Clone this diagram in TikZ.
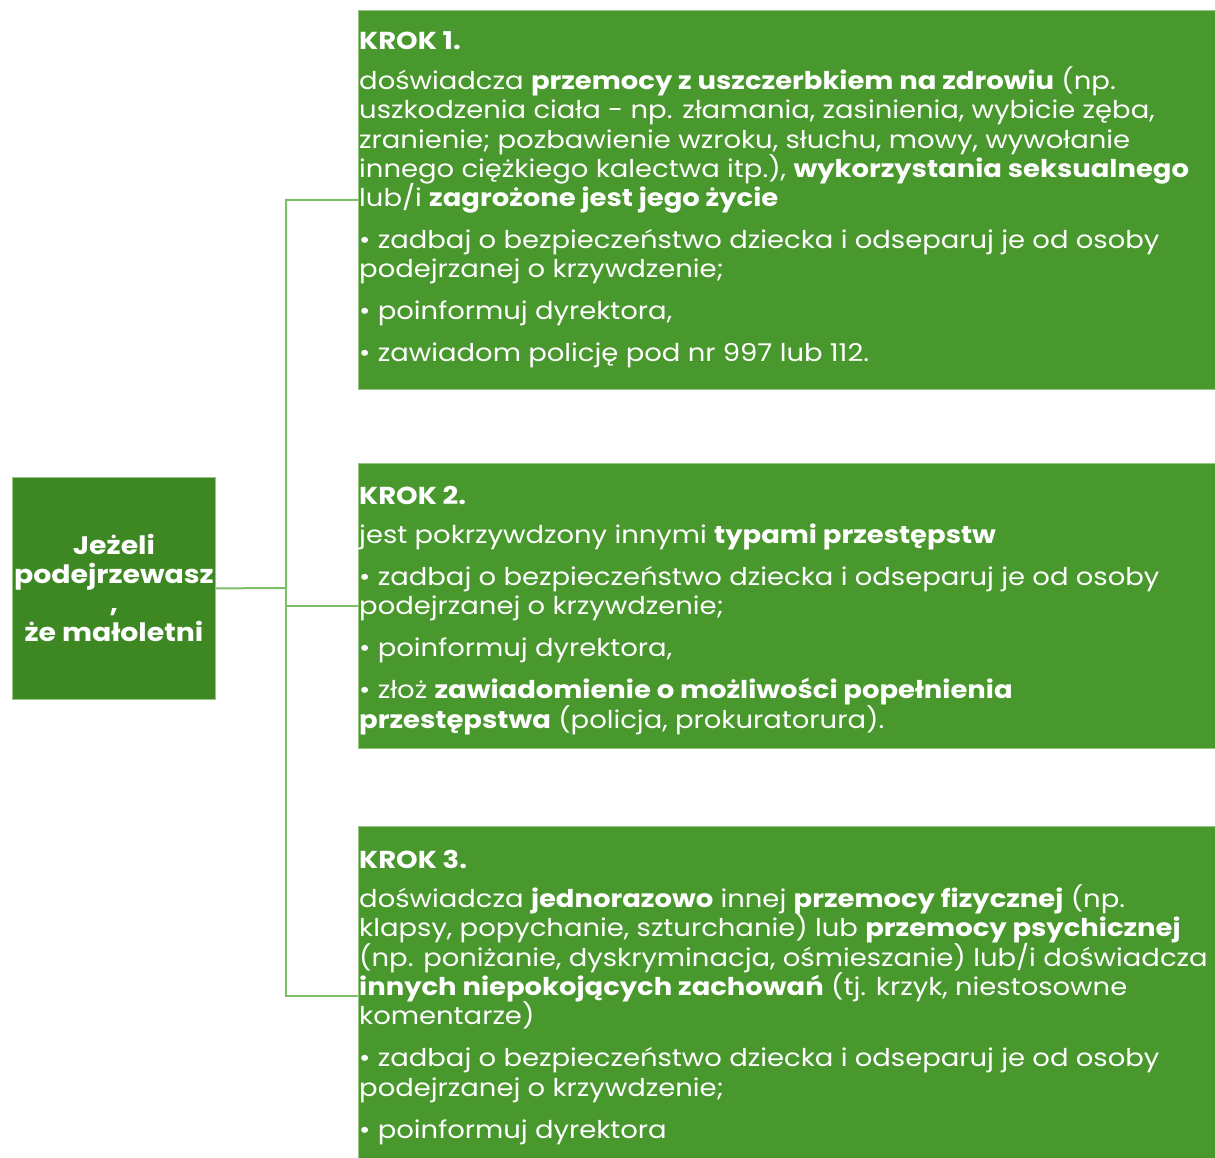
\documentclass[tikz,border=0pt]{standalone}
\usepackage{fontspec}
\setmainfont{Poppins}[FakeStretch=1.12]
\definecolor{boxgreen}{RGB}{73,152,45}
\definecolor{darkgreen}{RGB}{62,136,36}
\definecolor{edgegreen}{RGB}{150,200,130}
\definecolor{linkgreen}{RGB}{125,190,105}
\newcommand{\Row}[1]{\hbox{#1}}
\newcommand{\Pgap}{\vskip 12.7pt}
\newcommand{\Kgap}{\vskip 10.2pt}
\newcommand{\Lines}[1]{\vtop{\baselineskip=29.3pt\lineskiplimit=-50pt\lineskip=0pt #1}}
\begin{document}
\begin{tikzpicture}[x=1pt,y=-1pt,
  stepbox/.style={draw=edgegreen, line width=0.8pt, fill=boxgreen, rectangle, anchor=north west, inner sep=0pt},
  steptext/.style={anchor=base west, inner sep=0pt, text=white, font=\fontsize{24.5}{29.3}\selectfont},
  link/.style={draw=linkgreen, line width=2pt}]
\useasboundingbox (0,0) rectangle (1215,1158);
\fill[white] (0,0) rectangle (1215,1158);

\node[stepbox, minimum width=857pt, minimum height=379pt] (b1) at (358,10) {};
\node[stepbox, minimum width=857pt, minimum height=285pt] (b2) at (358,463) {};
\node[stepbox, minimum width=857pt, minimum height=340pt] (b3) at (358,826) {};
\node[stepbox, fill=darkgreen, minimum width=203pt, minimum height=222pt, align=center,
      text=white, font=\bfseries\fontsize{25.3}{29}\selectfont] (L) at (12,477)
      {Jeżeli\\podejrzewasz\\,\\że małoletni};

\node[steptext] (t1) at (359,50) {\Lines{%
\Row{\textbf{KROK 1.}}\Kgap
\Row{doświadcza \textbf{przemocy z uszczerbkiem na zdrowiu} (np.}
\Row{uszkodzenia ciała - np. złamania, zasinienia, wybicie zęba,}
\Row{zranienie; pozbawienie wzroku, słuchu, mowy, wywołanie}
\Row{innego ciężkiego kalectwa itp.), \textbf{wykorzystania seksualnego}}
\Row{lub/i \textbf{zagrożone jest jego życie}}\Pgap
\Row{• zadbaj o bezpieczeństwo dziecka i odseparuj je od osoby}
\Row{podejrzanej o krzywdzenie;}\Pgap
\Row{• poinformuj dyrektora,}\Pgap
\Row{• zawiadom policję pod nr 997 lub 112.}}};

\node[steptext] (t2) at (359,504) {\Lines{%
\Row{\textbf{KROK 2.}}\Kgap
\Row{jest pokrzywdzony innymi \textbf{typami przestępstw}}\Pgap
\Row{• zadbaj o bezpieczeństwo dziecka i odseparuj je od osoby}
\Row{podejrzanej o krzywdzenie;}\Pgap
\Row{• poinformuj dyrektora,}\Pgap
\Row{• złoż \textbf{zawiadomienie o możliwości popełnienia}}
\Row{\textbf{przestępstwa} (policja, prokuratorura).}}};

\node[steptext] (t3) at (359,868) {\Lines{%
\Row{\textbf{KROK 3.}}\Kgap
\Row{doświadcza \textbf{jednorazowo} innej \textbf{przemocy fizycznej} (np.}
\Row{klapsy, popychanie, szturchanie) lub \textbf{przemocy psychicznej}}
\Row{(np. poniżanie, dyskryminacja, ośmieszanie) lub/i doświadcza}
\Row{\textbf{innych niepokojących zachowań} (tj. krzyk, niestosowne}
\Row{komentarze)}\Pgap
\Row{• zadbaj o bezpieczeństwo dziecka i odseparuj je od osoby}
\Row{podejrzanej o krzywdzenie;}\Pgap
\Row{• poinformuj dyrektora}}};

\coordinate (j) at (286,588);
\draw[link] (L.east) -- (j) |- (b1.west);
\draw[link] (j) |- (b2.west);
\draw[link] (j) |- (b3.west);
\end{tikzpicture}
\end{document}
